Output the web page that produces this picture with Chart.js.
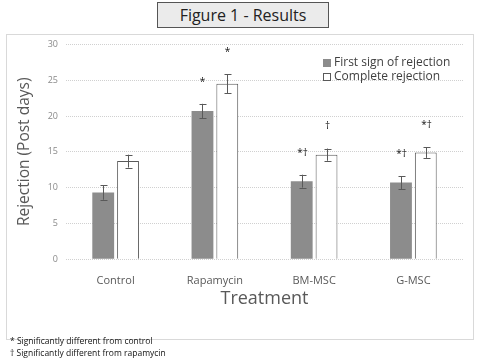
<!DOCTYPE html>
<html>
<head>
<meta charset="utf-8">
<script src="https://cdn.jsdelivr.net/npm/chart.js@4"></script>
<style>
  body { margin: 0; width: 480px; height: 360px; background: #fff; font-family: 'Open Sans', sans-serif; position: relative; overflow: hidden; }
  #title { position: absolute; left: 157px; top: 2px; width: 170px; height: 24px; border: 1px solid #555; background: #ebebeb;
    font-size: 16px; line-height: 24px; text-align: center; color: #222; }
  #frame { position: absolute; left: 6px; top: 34px; width: 466px; height: 304px; border: 1px solid #d9d9d9; overflow: hidden; }
  #chart { position: absolute; left: 0; top: -4px; }
  #notes { position: absolute; left: 10px; top: 335px; font-size: 8.5px; line-height: 12px; color: #111; }
</style>
</head>
<body>
<div id="title">Figure 1 - Results</div>
<div id="frame"><canvas id="chart" width="466" height="308"></canvas></div>
<div id="notes">* Significantly different from control<br>† Significantly different from rapamycin</div>
<script>
// 数据
const categories = ['Control', 'Rapamycin', 'BM-MSC', 'G-MSC'];
const seriesNames = ['First sign of rejection', 'Complete rejection'];
const firstSign = [9.3, 20.7, 10.9, 10.7];
const firstSignErr = [1.0, 1.0, 0.9, 0.9];
const complete = [13.7, 24.5, 14.6, 14.9];
const completeErr = [0.9, 1.3, 0.85, 0.75];
const firstSignMarks = ['', '*', '*†', '*†'];
const completeMarks = ['', '*', '†', '*†'];
const yTicks = [0, 5, 10, 15, 20, 25, 30];

const errors = [firstSignErr, completeErr];
const marks = [firstSignMarks, completeMarks];

// 误差线 + 显著性标记
const errorBarPlugin = {
  id: 'errorBars',
  afterDatasetsDraw(chart) {
    const ctx = chart.ctx;
    const y = chart.scales.y;
    ctx.save();
    chart.data.datasets.forEach((ds, di) => {
      const meta = chart.getDatasetMeta(di);
      meta.data.forEach((bar, i) => {
        const v = ds.data[i];
        const e = errors[di][i];
        const top = y.getPixelForValue(v + e);
        const bot = y.getPixelForValue(v - e);
        const x = Math.round(bar.x) + 0.5;
        ctx.strokeStyle = '#595959';
        ctx.lineWidth = 1;
        ctx.beginPath();
        ctx.moveTo(x, top); ctx.lineTo(x, bot);
        ctx.moveTo(x - 3, Math.round(top) + 0.5); ctx.lineTo(x + 4, Math.round(top) + 0.5);
        ctx.moveTo(x - 3, Math.round(bot) + 0.5); ctx.lineTo(x + 4, Math.round(bot) + 0.5);
        ctx.stroke();
        const m = marks[di][i];
        if (m) {
          ctx.fillStyle = '#111';
          ctx.font = '10px "Open Sans"';
          ctx.textAlign = 'center';
          ctx.textBaseline = 'middle';
          ctx.fillText(m, x, top - 22);
        }
      });
    });
    ctx.restore();
  }
};

// 图例画在绘图区右上角
const insideLegend = {
  id: 'insideLegend',
  afterDraw(chart) {
    const ctx = chart.ctx;
    const x0 = 316, y0 = 32;
    ctx.save();
    ctx.font = '12px "Open Sans"';
    ctx.textBaseline = 'middle';
    ctx.textAlign = 'left';
    chart.data.datasets.forEach((ds, i) => {
      const yy = y0 + i * 14;
      ctx.fillStyle = ds.backgroundColor;
      ctx.fillRect(x0, yy - 4, 8, 8);
      ctx.strokeStyle = ds.borderColor;
      ctx.lineWidth = 1;
      ctx.strokeRect(x0 + 0.5, yy - 3.5, 7, 7);
      ctx.fillStyle = '#404040';
      ctx.fillText(ds.label, x0 + 11, yy);
    });
    ctx.restore();
  }
};

new Chart(document.getElementById('chart'), {
  type: 'bar',
  data: {
    labels: categories,
    datasets: [
      { label: seriesNames[0], data: firstSign, backgroundColor: '#8c8c8c', borderColor: '#8c8c8c', borderWidth: 0 },
      { label: seriesNames[1], data: complete, backgroundColor: '#ffffff', borderColor: '#595959', borderWidth: 1 }
    ]
  },
  options: {
    responsive: false,
    animation: false,
    devicePixelRatio: 1,
    categoryPercentage: 0.5,
    barPercentage: 0.88,
    layout: { padding: { top: 0, right: 10, bottom: 29, left: 0 } },
    plugins: { legend: { display: false }, tooltip: { enabled: false } },
    scales: {
      x: {
        grid: { display: false },
        border: { display: false },
        ticks: { color: '#595959', font: { size: 11, family: 'Open Sans' }, padding: 7 },
        title: { display: true, text: 'Treatment', color: '#595959', font: { size: 18, family: 'Open Sans' }, padding: { top: -6, bottom: 0 } }
      },
      y: {
        min: 0, max: 30,
        afterBuildTicks(scale) { scale.ticks = yTicks.map(v => ({ value: v })); },
        afterFit(scale) { scale.width = 59; },
        grid: { color: '#d0d0d0', drawTicks: false },
        border: { display: false, dash: [1, 1] },
        ticks: { color: '#8a8a8a', font: { size: 9, family: 'Open Sans' }, padding: 8 },
        title: { display: true, text: 'Rejection (Post days)', color: '#595959', font: { size: 15.5, family: 'Open Sans' }, padding: { top: 8, bottom: 0 } }
      }
    }
  },
  plugins: [errorBarPlugin, insideLegend]
});
</script>
</body>
</html>
